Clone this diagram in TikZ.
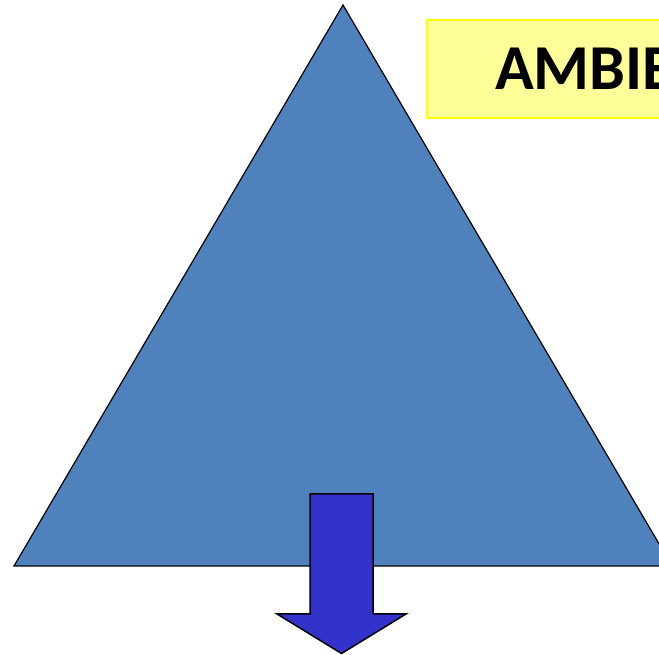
\documentclass[tikz,border=0pt]{standalone}
\usepackage{fontspec}
\setmainfont{Carlito}
\definecolor{triblue}{HTML}{4F81BD}
\definecolor{arrblue}{HTML}{3333CC}
\definecolor{boxfill}{HTML}{FFFF99}
\definecolor{boxline}{HTML}{FFFF00}
\begin{document}
\begin{tikzpicture}[x=1pt,y=1pt,
  tri/.style={fill=triblue,draw=black,line width=1.2pt,line join=miter},
  arrowshape/.style={fill=arrblue,draw=black,line width=1.5pt,line join=miter},
  labelbox/.style={fill=boxfill,draw=boxline,line width=2pt}]
\useasboundingbox (0,0) rectangle (659,655);
\clip (0,0) rectangle (659,655);
\coordinate (apex) at (343,650);
\coordinate (bl) at (14,89);
\coordinate (br) at (672,89);
\draw[tri] (apex) -- (bl) -- (br) -- cycle;
\draw[labelbox] (427,635) rectangle (720,537);
\node[anchor=base west,inner sep=0pt,font=\fontsize{64}{70}\selectfont\bfseries] (title) at (495,565) {AMBIE};
\draw[arrowshape] (310,161) -- (373,161) -- (373,41) -- (406,41) -- (341.5,1.5) -- (277,41) -- (310,41) -- cycle;
\end{tikzpicture}
\end{document}
